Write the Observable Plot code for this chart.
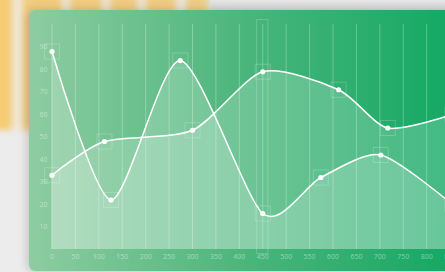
<!DOCTYPE html>
<html>
<head>
<meta charset="utf-8">
<script src="https://cdn.jsdelivr.net/npm/d3@7"></script>
<script src="https://cdn.jsdelivr.net/npm/@observablehq/plot@0.6"></script>
<style>
  html, body { margin: 0; padding: 0; width: 445px; height: 272px; overflow: hidden; background: #ececec; }
  #bg { position: absolute; left: 0; top: 0; width: 445px; height: 272px; overflow: hidden; }
  #yellow { position: absolute; left: -6px; top: -10px; width: 226px; height: 140px; filter: blur(3px);
    background: linear-gradient(90deg,
      #f6cb72 0px, #f6cb72 16px, #efe8da 20px, #efe8da 26px, #f1cc7f 31px, #f1cc7f 66px,
      #ece6da 70px, #ece6da 74px, #f0cb80 78px, #f0cb80 106px, #ebe6dc 110px, #ebe6dc 114px,
      #efcb82 118px, #efcb82 141px, #eae5dc 146px, #eae5dc 150px, #efcb82 154px, #efcb82 180px,
      #e9e5de 184px, #e9e5de 190px, #eecc86 194px, #eecc86 210px, #e3e3e3 218px); }
  #topgray { position: absolute; left: 210px; top: 0; width: 240px; height: 12px; background: linear-gradient(#e6e6e6, #d4d4d4); filter: blur(1px); }
  #card { position: absolute; left: 29px; top: 10px; width: 470px; height: 261px; border-radius: 6px; overflow: hidden;
    background: linear-gradient(90deg, #8ecca1 0%, #4cb67c 45%, #07a55f 100%);
    box-shadow: -2px 0 10px rgba(0,0,0,0.18); }
  #card svg { position: absolute; left: 0; top: 0; }
</style>
</head>
<body>
<div id="bg"><div id="yellow"></div><div id="topgray"></div></div>
<div id="card"></div>
<script>
// Series A (starts high)
const xA = [0, 126, 274, 450, 574, 702, 855];
const yA = [88, 22, 84, 16, 32, 42, 20];
// Series B (starts low)
const xB = [0, 112, 300, 450, 612, 717, 855];
const yB = [33, 48, 53, 79, 71, 54, 60];
// axis ticks
const xTicks = d3.range(0, 901, 50);
const yTicks = [10, 20, 30, 40, 50, 60, 70, 80, 90];
const highlightX = [450];

const A = xA.map((x, i) => ({x, y: yA[i]}));
const B = xB.map((x, i) => ({x, y: yB[i]}));
const curve = d3.curveCardinal.tension(0.25);

const chart = Plot.plot({
  width: 444,
  height: 261,
  marginLeft: 22.5,
  marginRight: 0,
  marginTop: 14,
  marginBottom: 22,
  style: {background: "transparent", fontFamily: "'Open Sans', sans-serif", fontSize: "7px", color: "rgba(255,255,255,0.45)", overflow: "visible"},
  x: {domain: [0, 900], ticks: xTicks, tickSize: 0, tickPadding: 5, label: null},
  y: {domain: [0, 100], ticks: yTicks, tickSize: 0, tickPadding: 4.5, label: null},
  marks: [
    Plot.ruleX(xTicks, {y1: 0, y2: 100, stroke: "white", strokeOpacity: 0.28, strokeWidth: 1}),
    Plot.rect(highlightX, {x1: d => d - 12, x2: d => d + 12, y1: -2, y2: 102, fill: "none", stroke: "white", strokeOpacity: 0.2}),
    Plot.areaY(A, {x: "x", y: "y", curve, fill: "white", fillOpacity: 0.2}),
    Plot.areaY(B, {x: "x", y: "y", curve, fill: "white", fillOpacity: 0.2}),
    Plot.lineY(A, {x: "x", y: "y", curve, stroke: "white", strokeWidth: 1.5}),
    Plot.lineY(B, {x: "x", y: "y", curve, stroke: "white", strokeWidth: 1.5}),
    Plot.dot(A, {x: "x", y: "y", symbol: "square", r: 8.5, stroke: "white", strokeOpacity: 0.2, strokeWidth: 1}),
    Plot.dot(B, {x: "x", y: "y", symbol: "square", r: 8.5, stroke: "white", strokeOpacity: 0.2, strokeWidth: 1}),
    Plot.dot(A, {x: "x", y: "y", r: 2.6, fill: "white"}),
    Plot.dot(B, {x: "x", y: "y", r: 2.6, fill: "white"}),
    Plot.axisX({ticks: xTicks, tickSize: 0, tickPadding: 5, fill: "rgba(255,255,255,0.45)"}),
    Plot.axisY({ticks: yTicks, tickSize: 0, tickPadding: 4.5, fill: "rgba(255,255,255,0.45)"})
  ]
});
document.getElementById("card").appendChild(chart);
</script>
</body>
</html>
